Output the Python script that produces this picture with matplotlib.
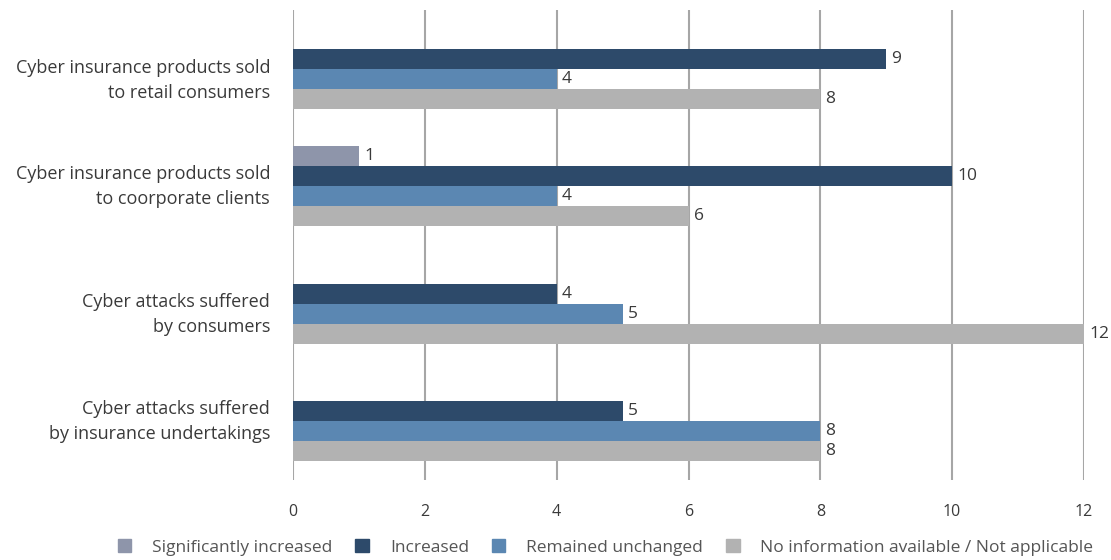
import numpy as np
import matplotlib.pyplot as plt
import matplotlib.transforms as mtransforms
from matplotlib.patches import Patch

plt.rcParams['font.family'] = ['Open Sans', 'DejaVu Sans']

categories = ["Cyber insurance products sold\nto retail consumers",
              "Cyber insurance products sold\nto coorporate clients",
              "Cyber attacks suffered\nby consumers",
              "Cyber attacks suffered\nby insurance undertakings"]
series = ["Significantly increased", "Increased", "Remained unchanged",
          "No information available / Not applicable"]
sig_increased = [0, 1, 0, 0]
increased = [9, 10, 4, 5]
unchanged = [4, 4, 5, 8]
no_info = [8, 6, 12, 8]
colors = ["#8e95aa", "#2d4a6a", "#5b87b2", "#b2b2b2"]

values = [sig_increased, increased, unchanged, no_info]

fig = plt.figure(figsize=(11.11, 5.60), dpi=100)
ax = fig.add_axes([293/1111, 1 - 480/560, (1084 - 293)/1111, 470/560])

y = np.arange(len(categories))
h = 0.17
offsets = [-1.5, -0.5, 0.5, 1.5]
for vals, col, off in zip(values, colors, offsets):
    for yi, v in zip(y, vals):
        if v == 0:
            continue
        ax.barh(yi + off * h, v, height=h, color=col, zorder=3)
        ax.text(v + 0.08, yi + off * h, str(v), va='center', ha='left',
                fontsize=12.5, color='#3a3a3a', zorder=4)

ax.set_xlim(0, 12)
ax.set_ylim(len(categories) - 0.5, -0.5)
ax.set_xticks(range(0, 13, 2))
ax.set_yticks(y)
ax.set_yticklabels([])
ax.tick_params(axis='y', length=0)
ax.tick_params(axis='x', length=0, pad=17, labelsize=11.5, labelcolor='#3a3a3a')
ax.grid(axis='x', color='#a6a6a6', linewidth=1.5, zorder=0)
for s in ax.spines.values():
    s.set_visible(False)

# category labels (first and third sit a little lower in the original)
label_shift = [12, 0, 11, 0]
trans = mtransforms.blended_transform_factory(ax.transAxes, ax.transData)
for yi, lab, sh in zip(y, categories, label_shift):
    off = mtransforms.ScaledTranslation(-23/100, -sh/100, fig.dpi_scale_trans)
    ax.text(0, yi, lab, transform=trans + off, ha='right', va='center',
            fontsize=13, color='#3a3a3a', linespacing=1.52, multialignment='right')

handles = [Patch(color=c) for c in colors]
fig.legend(handles, series, loc='lower center', bbox_to_anchor=(0.545, -0.02),
           ncol=4, frameon=False, fontsize=12.5, handlelength=0.8, handleheight=0.8,
           handletextpad=1.2, columnspacing=1.3, labelcolor='#555555')

fig.savefig("out.png", dpi=100)
